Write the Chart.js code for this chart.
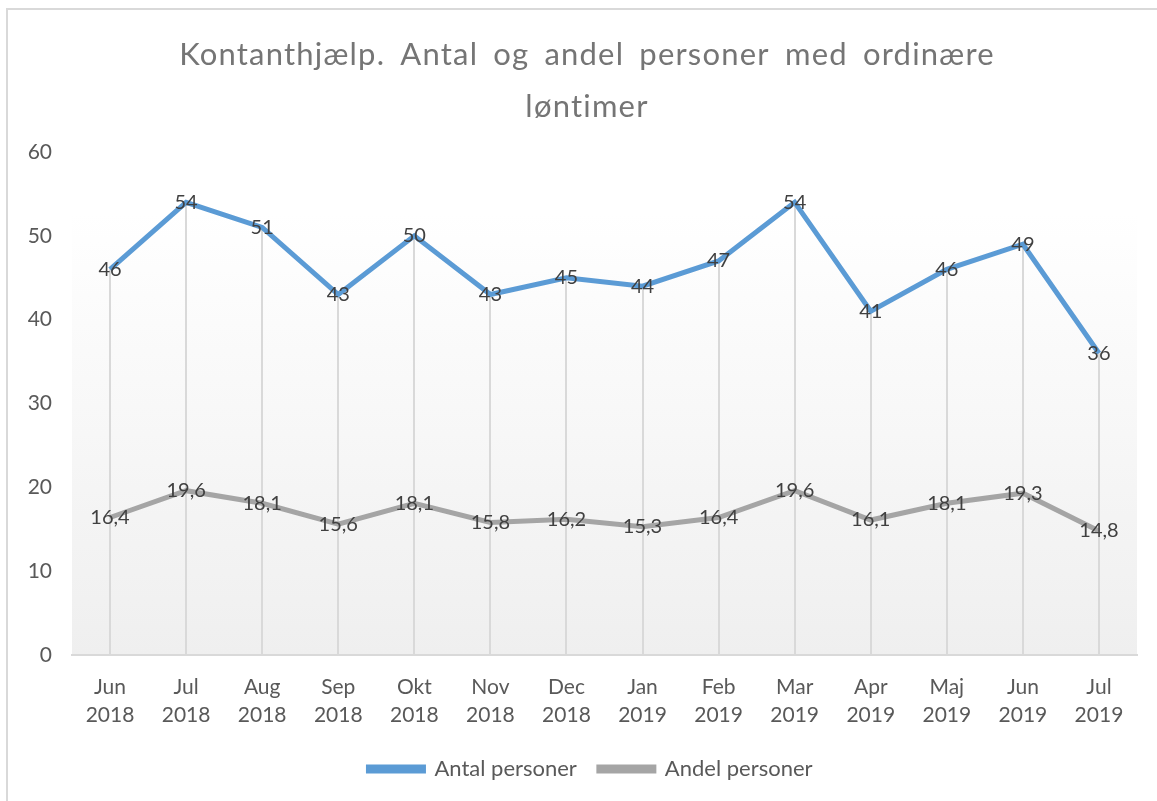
<!DOCTYPE html>
<html>
<head>
<meta charset="utf-8">
<script src="https://cdn.jsdelivr.net/npm/chart.js@4/dist/chart.umd.min.js"></script>
<style>
  html, body { margin: 0; padding: 0; background: #fff; }
  #wrap { position: relative; width: 1157px; height: 801px; }
  #frame { position: absolute; left: 6px; top: 8px; right: -10px; bottom: -10px;
           border-left: 2px solid #d9d9d9; border-top: 2px solid #d9d9d9; }
  canvas { position: absolute; left: 0; top: 0; }
</style>
</head>
<body>
<div id="wrap">
  <div id="frame"></div>
  <canvas id="chart" width="1157" height="801"></canvas>
</div>
<script>
const months = [
    ["Jun", "2018"], ["Jul", "2018"], ["Aug", "2018"], ["Sep", "2018"],
    ["Okt", "2018"], ["Nov", "2018"], ["Dec", "2018"], ["Jan", "2019"],
    ["Feb", "2019"], ["Mar", "2019"], ["Apr", "2019"], ["Maj", "2019"],
    ["Jun", "2019"], ["Jul", "2019"]
];
const antalPersoner = [46, 54, 51, 43, 50, 43, 45, 44, 47, 54, 41, 46, 49, 36];
const andelPersoner = [16.4, 19.6, 18.1, 15.6, 18.1, 15.8, 16.2, 15.3, 16.4, 19.6, 16.1, 18.1, 19.3, 14.8];
const yTicks = [0, 10, 20, 30, 40, 50, 60];
const titleLines = ["Kontanthjælp. Antal og andel personer med ordinære", "løntimer"];

const FONT = "Lato, 'Liberation Sans', sans-serif";

// baggrund med gradient (starter lidt under toppen, som i Excel)
const bgPlugin = {
    id: "bg",
    beforeDraw(chart) {
        const { ctx, chartArea: a } = chart;
        const top = a.top + (a.bottom - a.top) * 0.121;
        const g = ctx.createLinearGradient(0, top, 0, a.bottom);
        g.addColorStop(0, "#ffffff");
        g.addColorStop(1, "#efefef");
        ctx.save();
        ctx.fillStyle = g;
        ctx.fillRect(a.left, top, a.right - a.left, a.bottom - top);
        ctx.restore();
    }
};

// titel tegnes selv for at få Excel-agtig spatiering
const titlePlugin = {
    id: "xlTitle",
    afterDraw(chart) {
        const { ctx } = chart;
        ctx.save();
        ctx.font = "31px " + FONT;
        ctx.fillStyle = "#757575";
        ctx.textAlign = "center";
        ctx.textBaseline = "alphabetic";
        ctx.letterSpacing = "1.2px";
        ctx.wordSpacing = "6px";
        ctx.fillText(titleLines[0], 587, 65);
        ctx.fillText(titleLines[1], 587, 117);
        ctx.restore();
    }
};

// legenden centreres som i Excel (lidt til højre)
const legendShift = {
    id: "legendShift",
    afterLayout(chart) {
        chart.legend.left += 22;
        chart.legend.right += 22;
    }
};

// lodrette droplines fra højeste punkt ned til aksen
const dropPlugin = {
    id: "drops",
    beforeDatasetsDraw(chart) {
        const { ctx } = chart;
        const x = chart.scales.x, y = chart.scales.y;
        ctx.save();
        ctx.strokeStyle = "#d9d9d9";
        ctx.lineWidth = 2;
        months.forEach((m, i) => {
            const top = Math.max(antalPersoner[i], andelPersoner[i]);
            const px = Math.round(x.getPixelForValue(i));
            ctx.beginPath();
            ctx.moveTo(px, y.getPixelForValue(top));
            ctx.lineTo(px, y.getPixelForValue(0));
            ctx.stroke();
        });
        ctx.restore();
    }
};

// dataetiketter midt på punkterne
const labelPlugin = {
    id: "labels",
    afterDatasetsDraw(chart) {
        const { ctx } = chart;
        ctx.save();
        ctx.font = "20px " + FONT;
        ctx.fillStyle = "#404040";
        ctx.textAlign = "center";
        ctx.textBaseline = "middle";
        chart.data.datasets.forEach((ds, di) => {
            const meta = chart.getDatasetMeta(di);
            meta.data.forEach((pt, i) => {
                const txt = String(ds.data[i]).replace(".", ",");
                ctx.fillText(txt, pt.x, pt.y);
            });
        });
        ctx.restore();
    }
};

new Chart(document.getElementById("chart"), {
    type: "line",
    data: {
        labels: months,
        datasets: [
            {
                label: "Antal personer",
                data: antalPersoner,
                borderColor: "#5b9bd5",
                backgroundColor: "#5b9bd5",
                borderWidth: 5,
                pointRadius: 0,
                tension: 0
            },
            {
                label: "Andel personer",
                data: andelPersoner,
                borderColor: "#a5a5a5",
                backgroundColor: "#a5a5a5",
                borderWidth: 5,
                pointRadius: 0,
                tension: 0
            }
        ]
    },
    options: {
        responsive: false,
        animation: false,
        layout: { padding: { top: 152, right: 20, bottom: 11, left: 0 } },
        scales: {
            x: {
                offset: true,
                grid: { display: false, drawTicks: false },
                border: { color: "#d9d9d9", width: 2 },
                afterFit(scale) { scale.height = 81; },
                ticks: {
                    color: "#595959",
                    font: { family: FONT, size: 21, lineHeight: 1.35 },
                    padding: 18,
                    maxRotation: 0
                }
            },
            y: {
                min: 0,
                max: 60,
                afterBuildTicks(scale) { scale.ticks = yTicks.map(v => ({ value: v })); },
                afterFit(scale) { scale.width = 72; },
                grid: { display: false, drawTicks: false },
                border: { display: false },
                ticks: {
                    color: "#595959",
                    font: { family: FONT, size: 21 },
                    padding: 20
                }
            }
        },
        plugins: {
            title: { display: false },
            legend: {
                position: "bottom",
                labels: {
                    color: "#595959",
                    font: { family: FONT, size: 22 },
                    boxWidth: 55,
                    boxHeight: 4,
                    padding: 22
                }
            },
            tooltip: { enabled: false }
        }
    },
    plugins: [bgPlugin, dropPlugin, labelPlugin, titlePlugin, legendShift]
});
</script>
</body>
</html>
